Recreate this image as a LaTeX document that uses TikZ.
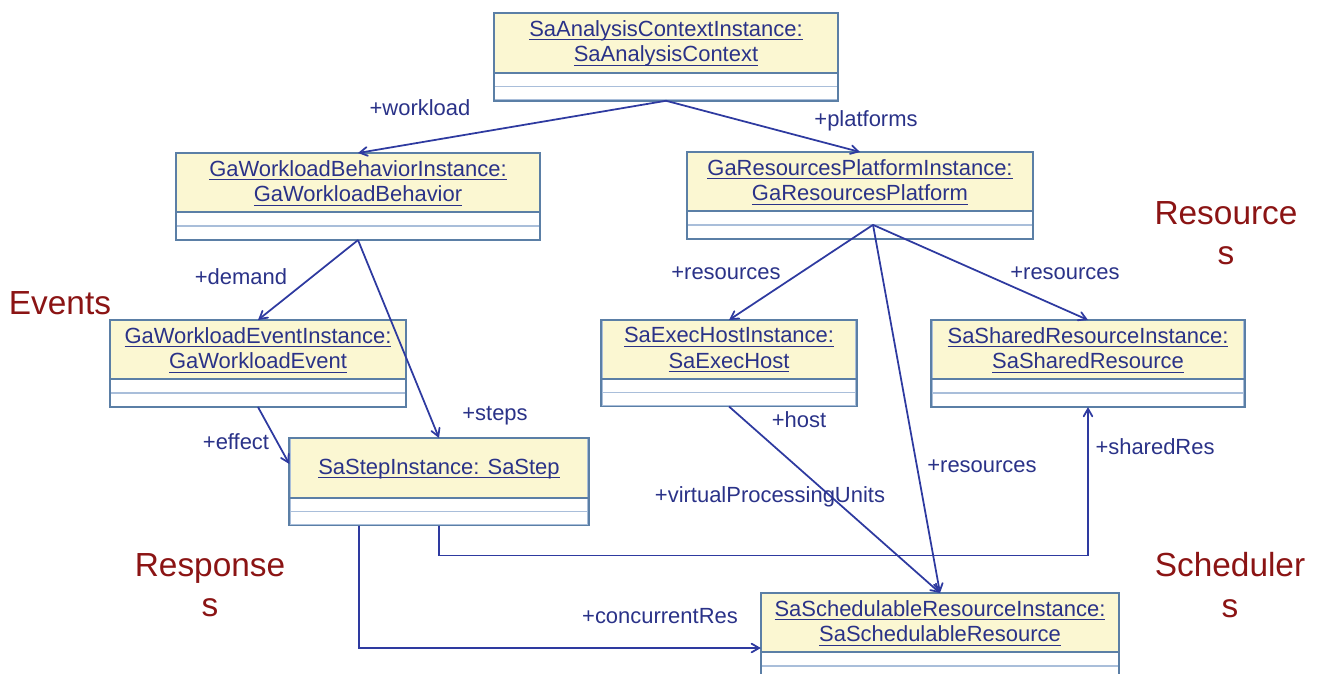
\documentclass[tikz,border=0pt]{standalone}
\usepackage{fontspec}
\setmainfont{Liberation Sans}
\usepackage{tikz}
\usetikzlibrary{arrows,calc,shapes.multipart}
\definecolor{boxline}{HTML}{5B7FA6}
\definecolor{splitline}{HTML}{A9BEDA}
\definecolor{objfill}{HTML}{FBF7D2}
\definecolor{objtext}{HTML}{2A3288}
\definecolor{linkblue}{HTML}{2E3AA0}
\definecolor{areared}{HTML}{8B1414}
\newcommand{\objul}[1]{\leavevmode\setbox0\hbox{#1}\rlap{\rule[-2.2pt]{\wd0}{0.6pt}}\box0}
\newcommand{\objhead}[2]{\vbox{\halign{\hfil##\hfil\cr\objul{#1}\cr\objul{#2}\cr}}}
\newcommand{\objrest}{\nodepart{two}\rule{0pt}{0.1pt}\nodepart{three}\rule{0pt}{0.1pt}}
\tikzstyle{objbox}=[rectangle split,rectangle split parts=3,draw=splitline,line width=0.8pt,rectangle split part fill={objfill,white,white},inner xsep=2pt,inner ysep=3.4pt,text=objtext,font=\fontsize{12.5}{14.5}\selectfont,anchor=north]
\tikzstyle{assoc}=[->,>=angle 60,draw=linkblue,line width=1pt]
\tikzstyle{role}=[text=objtext,font=\fontsize{12.5}{14.5}\selectfont]
\tikzstyle{area}=[text=areared,font=\fontsize{19}{23}\selectfont,align=center]

\begin{document}
\begin{tikzpicture}[x=0.02cm,y=-0.02cm]
\useasboundingbox (0,0) rectangle (1317,673);
\node [objbox,minimum width=6.86cm] (ctx) at (666,13) {\objhead{SaAnalysisContextInstance:}{SaAnalysisContext}\objrest};
\node [objbox,minimum width=7.26cm] (wlb) at (358,153) {\objhead{GaWorkloadBehaviorInstance:}{GaWorkloadBehavior}\objrest};
\node [objbox,minimum width=6.9cm] (rpf) at (860,152) {\objhead{GaResourcesPlatformInstance:}{GaResourcesPlatform}\objrest};
\node [objbox,minimum width=5.9cm] (evt) at (258,320) {\objhead{GaWorkloadEventInstance:}{GaWorkloadEvent}\objrest};
\node [objbox,minimum width=5.08cm] (host) at (729,320) {\objhead{SaExecHostInstance:}{SaExecHost}\objrest};
\node [objbox,minimum width=6.24cm] (shr) at (1088,320) {\objhead{SaSharedResourceInstance:}{SaSharedResource}\objrest};
\node [objbox,minimum width=5.96cm] (step) at (439,438) {\rule[-9.6pt]{0pt}{26pt}\objul{SaStepInstance: SaStep}\objrest};
\node [objbox,minimum width=7.14cm] (sch) at (940,593) {\objhead{SaSchedulableResourceInstance:}{SaSchedulableResource}\objrest};
\foreach \n in {ctx,wlb,rpf,evt,host,shr,step,sch}
  \draw [boxline,line width=1.1pt] (\n.north west) rectangle (\n.south east) (\n.text split west) -- (\n.text split east);

\coordinate (rpfout) at ($(rpf.two split)+(13,0)$);
\draw [assoc] (ctx.south) -- (wlb.north);
\draw [assoc] (ctx.south) -- (rpf.north);
\draw [assoc] (wlb.south) -- (evt.north);
\draw [assoc] (wlb.south) -- (step.north);
\draw [assoc] (evt.south) -- ($(step.north west)+(0,26)$);
\draw [assoc] (rpfout) -- (host.north);
\draw [assoc] (rpfout) -- (shr.north);
\draw [assoc] (rpfout) -- (sch.north);
\draw [assoc] (host.south) -- (sch.north);
\draw [assoc] (step.south) -- ++(0,30) -| (shr.south);
\draw [assoc] ($(step.south)+(-80,0)$) |- ($(sch.north west)+(0,55)$);

\node [role] (lwork) at (420,108) {+workload};
\node [role] (lplat) at (866,121) {+platforms};
\node [role] (ldem) at (241,277) {+demand};
\node [role] (lsteps) at (495,416) {+steps};
\node [role] (leff) at (236,442) {+effect};
\node [role] (lres1) at (726,273) {+resources};
\node [role] (lres2) at (1065,273) {+resources};
\node [role] (lres3) at (982,466) {+resources};
\node [role] (lhost) at (799,420) {+host};
\node [role] (lvpu) at (770,497) {+virtualProcessingUnits};
\node [role] (lshr) at (1155,447) {+sharedRes};
\node [role] (lconc) at (660,616) {+concurrentRes};

\node [area] (events) at (60,303) {Events};
\node [area] (resarea) at (1226,233) {Resource\\s};
\node [area] (resparea) at (210,585) {Response\\s};
\node [area] (scharea) at (1230,585) {Scheduler\\s};
\end{tikzpicture}
\end{document}
